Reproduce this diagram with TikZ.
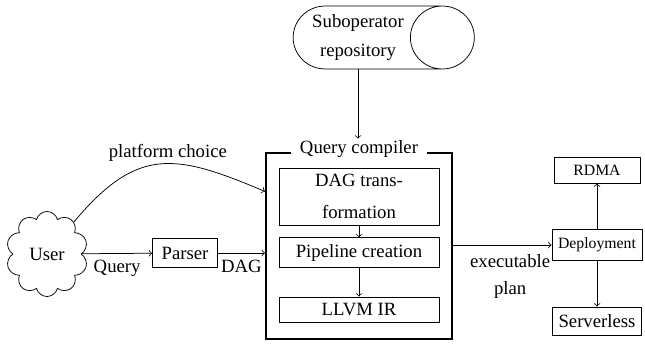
\documentclass[tikz,border=0pt]{standalone}
\usepackage{fontspec}
\setmainfont{Liberation Serif}
\usetikzlibrary{shapes.geometric,shapes.symbols,calc}

\begin{document}
\begin{tikzpicture}[x=0.534pt, y=0.534pt, %1 unidade = 1 pixel
	caixa/.style={draw, minimum width=85.4pt, align=center},
	destino/.style={draw, minimum width=45.9pt},
	pequeno/.style={font=\fontsize{8.4}{10}\selectfont}]
	\useasboundingbox (0,0) rectangle (645,343);
	
	%Repositorio
	\node[draw, cylinder, aspect=1.11, minimum width=33.6pt, minimum height=84.4pt, align=center, font=\fontsize{10}{15}\selectfont] (repo) at (358,305.5) {Suboperator\\repository};
	
	%Compilador
	\node[draw, line width=1.1pt, minimum width=99.3pt, minimum height=99.3pt] (compiler) at (359,97) {};
	\node[fill=white, inner xsep=5pt, inner ysep=1pt, anchor=base] (titulo) at ([yshift=-1pt]compiler.north) {Query compiler};
	\node[caixa, minimum height=30.4pt, font=\fontsize{10}{17}\selectfont] (dag) at (359,146.5) {DAG trans-\\formation};
	\node[caixa] (pipeline) at (359,90.5) {Pipeline creation};
	\node[caixa] (llvm) at (359,33.5) {LLVM IR};
	
	%Entrada
	\node[draw, cloud, cloud puffs=10, aspect=1, minimum width=43.8pt, minimum height=45.4pt] (user) at (47,89) {User};
	\node[draw, minimum width=34.7pt, minimum height=15.5pt] (parser) at (185,90) {Parser};
	
	%Saida
	\node[destino, pequeno, minimum height=16.6pt] (deploy) at (597,98) {Deployment};
	\node[destino, pequeno, minimum height=13.9pt] (rdma) at (597,173) {RDMA};
	\node[destino, minimum height=15pt] (serverless) at (597,22) {Serverless};
	
	%Setas
	\draw[->] (repo.south) -- (repo.south |- titulo.north);
	\draw[->] (user) -- (parser) node[midway, below]{Query};
	\draw[->] (parser) -- (parser -| compiler.west) node[midway, below]{DAG};
	\draw[->] (user.50) to[out=50, in=157, looseness=1.3] node[pos=0.55, above, inner sep=1pt]{platform choice} ($(compiler.north west)!0.21!(compiler.south west)$);
	\draw[->] (dag) -- (pipeline);
	\draw[->] (pipeline) -- (llvm);
	\draw[->] (compiler.east |- deploy) -- (deploy) node[pos=0.58, below, align=center, font=\fontsize{10}{14.4}\selectfont, yshift=-1.5pt]{executable\\plan};
	\draw[->] (deploy) -- (rdma);
	\draw[->] (deploy) -- (serverless);
\end{tikzpicture}
\end{document}
